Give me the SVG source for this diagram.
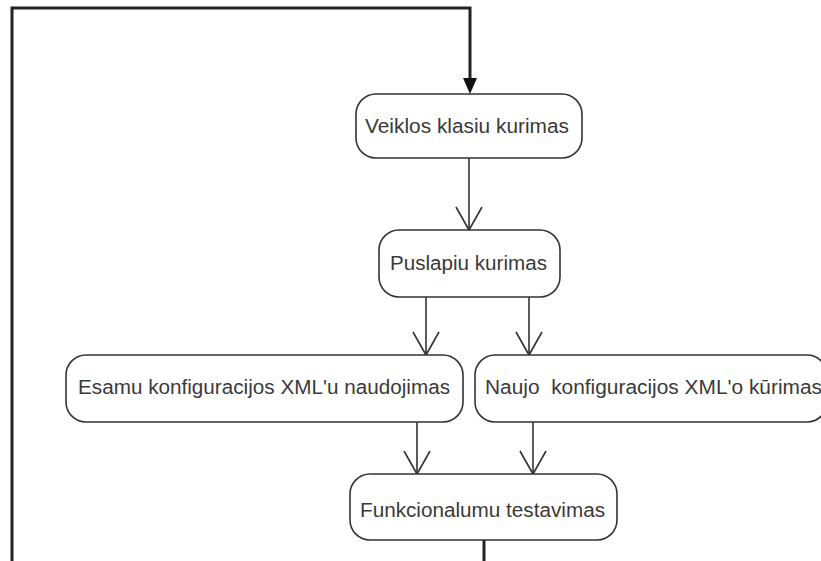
<svg xmlns="http://www.w3.org/2000/svg" width="821" height="561" viewBox="0 0 821 561">
  <defs>
    <style>
      .box { fill: #ffffff; stroke: #333333; stroke-width: 1.6; }
      .lbl { font-family: "Liberation Sans", Arial, sans-serif; font-size: 20px; fill: #3a3a3a; }
      .flow { fill: none; stroke: #333333; stroke-width: 1.6; }
      .loop { fill: none; stroke: #222222; stroke-width: 3; }
    </style>
  </defs>

  <rect width="821" height="561" fill="#ffffff"/>

  <g id="connectors">
    <!-- loop back from the bottom into the first activity -->
    <polyline class="loop" points="12,561 12,8 470,8 470,80"/>
    <polygon points="463,78 477,78 470,94" fill="#111111"/>
    <line class="loop" x1="484" y1="540" x2="484" y2="561"/>
    <!-- activity flow with open arrowheads -->
    <line class="flow" x1="469" y1="158" x2="469" y2="230"/>
    <path class="flow" d="M456,207 L469,230 L482,207"/>
    <line class="flow" x1="426" y1="297" x2="426" y2="355"/>
    <path class="flow" d="M413,332 L426,355 L439,332"/>
    <line class="flow" x1="529" y1="297" x2="529" y2="355"/>
    <path class="flow" d="M516,332 L529,355 L542,332"/>
    <line class="flow" x1="417" y1="422" x2="417" y2="474"/>
    <path class="flow" d="M404,451 L417,474 L430,451"/>
    <line class="flow" x1="533" y1="422" x2="533" y2="474"/>
    <path class="flow" d="M520,451 L533,474 L546,451"/>
  </g>

  <g id="veiklos">
    <rect class="box" x="356" y="94" width="226" height="64" rx="20"/>
    <text class="lbl" x="365" y="133" textLength="204" lengthAdjust="spacingAndGlyphs">Veiklos klasiu kurimas</text>
  </g>

  <g id="puslapiu">
    <rect class="box" x="379" y="230" width="181" height="67" rx="20"/>
    <text class="lbl" x="390" y="270" textLength="157" lengthAdjust="spacingAndGlyphs">Puslapiu kurimas</text>
  </g>

  <g id="esamu">
    <rect class="box" x="66" y="355" width="397" height="67" rx="20"/>
    <text class="lbl" x="78" y="394" textLength="372" lengthAdjust="spacingAndGlyphs">Esamu konfiguracijos XML'u naudojimas</text>
  </g>

  <g id="naujo">
    <rect class="box" x="475" y="355" width="352" height="67" rx="20"/>
    <text class="lbl" x="485" y="394" xml:space="preserve" textLength="337" lengthAdjust="spacingAndGlyphs">Naujo  konfiguracijos XML'o kūrimas</text>
  </g>

  <g id="funkcionalumu">
    <rect class="box" x="350" y="474" width="267" height="66" rx="20"/>
    <text class="lbl" x="360" y="517" textLength="245" lengthAdjust="spacingAndGlyphs">Funkcionalumu testavimas</text>
  </g>
</svg>
